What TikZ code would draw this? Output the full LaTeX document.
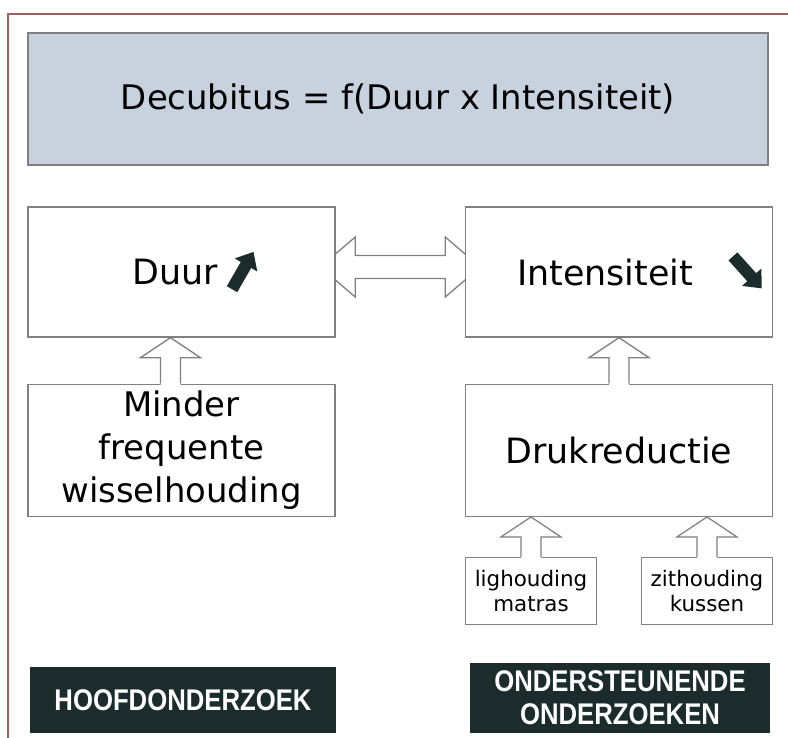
\documentclass[tikz,border=0pt]{standalone}
\usepackage{fontspec}
\setmainfont{DejaVu Sans}
\newfontfamily\capsfont[FakeStretch=0.86]{Liberation Sans}
\usetikzlibrary{positioning,calc,backgrounds}

\definecolor{darkteal}{HTML}{1C2C2C}
\definecolor{framered}{HTML}{A0605F}
\definecolor{titleblue}{HTML}{C8D2DE}

\tikzset{
  box/.style={draw=black!50,line width=1.3bp,fill=white,rectangle,
              minimum width=307bp,minimum height=130bp,inner sep=0pt,align=center},
  smallbox/.style={box,minimum width=131bp,minimum height=67bp,
              font=\fontsize{21.5}{25}\selectfont},
  bigtext/.style={inner sep=0pt,align=center,font=\fontsize{35}{42}\selectfont},
  darkbox/.style={fill=darkteal,text=white,minimum width=303bp,minimum height=68bp,
              inner sep=0pt,align=center,font=\capsfont\bfseries\fontsize{30}{33}\selectfont},
  trend/.style={fill=darkteal},
  hollow/.style={draw=black!50,line width=1.3bp,fill=white,line join=miter}
}

% hollow arrow from the top of #1 up to the bottom of #2, shifted by #3
\newcommand{\pushup}[3]{%
  \coordinate (base) at ($(#1.north)+(#3,0)$);
  \coordinate (tip) at (base |- #2.south);
  \fill[white] ($(base)+(-10,2)$) -- ($(tip)+(-10,20)$) -- ($(tip)+(-30,20)$) -- (tip)
     -- ($(tip)+(30,20)$) -- ($(tip)+(10,20)$) -- ($(base)+(10,2)$) -- cycle;
  \draw[hollow] ($(base)+(-10,0)$) -- ($(tip)+(-10,20)$) -- ($(tip)+(-30,20)$) -- (tip)
     -- ($(tip)+(30,20)$) -- ($(tip)+(10,20)$) -- ($(base)+(10,0)$);
}
% thick dark arrow at #1, turned by #2
\newcommand{\trendarrow}[2]{%
  \fill[trend,shift={(#1)},rotate=#2] (-21,-6) -- (7,-6) -- (7,-13) -- (22,0)
     -- (7,13) -- (7,6) -- (-21,6) -- cycle;
}

\begin{document}
\begin{tikzpicture}[x=1bp,y=-1bp]
\useasboundingbox (0,0) rectangle (788,738);
\draw[framered,line width=2bp] (8,738) -- (8,14) -- (788,14);

% formula on top
\node[box,fill=titleblue,minimum width=740bp,minimum height=132bp,
      font=\fontsize{34}{42}\selectfont] (title) at (398,99)
      {Decubitus = f(Duur x Intensiteit)};

% the two factors
\node[box] (duur) at (181.5,272) {};
\node[bigtext] (duurtxt) at ($(duur.center)+(-6,0)$) {Duur};
\coordinate (duurup) at ($(duur.center)+(61,-1)$);
\trendarrow{duurup}{60}

\node[box] (intens) at (619,272) {};
\node[bigtext] (intenstxt) at ($(intens.center)+(-14,0)$) {Intensiteit};
\coordinate (intensdown) at ($(intens.center)+(128,0)$);
\trendarrow{intensdown}{-48}

\begin{scope}[on background layer]
\coordinate (mid) at ($(duur.east)!0.5!(intens.west)+(0,-5)$);
\draw[hollow] ($(mid)+(-80,0)$) -- ($(mid)+(-45,-30)$) -- ($(mid)+(-45,-11.5)$)
   -- ($(mid)+(45,-11.5)$) -- ($(mid)+(45,-30)$) -- ($(mid)+(80,0)$)
   -- ($(mid)+(45,30)$) -- ($(mid)+(45,11.5)$) -- ($(mid)+(-45,11.5)$)
   -- ($(mid)+(-45,30)$) -- cycle;
\end{scope}

% what acts on them
\node[box,minimum height=132bp,font=\fontsize{34}{43}\selectfont,below=46bp of duur] (minder)
      {Minder\\frequente\\wisselhouding};
\node[box,minimum height=132bp,font=\fontsize{35}{42}\selectfont,below=46bp of intens] (druk)
      {Drukreductie};
\node[smallbox,below right=40bp and 0bp of druk.south west] (lig) {lighouding\\matras};
\node[smallbox,below left=40bp and 0bp of druk.south east] (zit) {zithouding\\kussen};

\pushup{minder}{duur}{-11}
\pushup{druk}{intens}{0}
\pushup{lig}{druk}{0}
\pushup{zit}{druk}{0}

% studies
\node[darkbox,minimum width=306bp,minimum height=66bp] (hoofd) at (183,700) {HOOFDONDERZOEK};
\node[darkbox,minimum width=300bp,minimum height=70bp] (onder) at (620,698)
      {ONDERSTEUNENDE\\ONDERZOEKEN};
\end{tikzpicture}
\end{document}
